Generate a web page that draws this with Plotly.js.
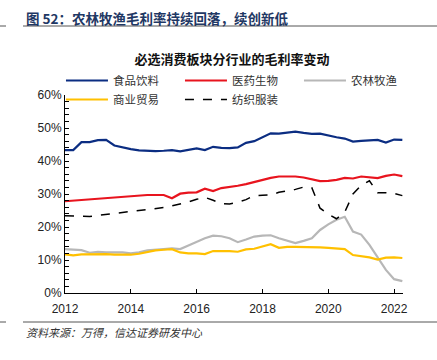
<!DOCTYPE html>
<html>
<head>
<meta charset="utf-8">
<script src="https://cdn.plot.ly/plotly-3.0.1.min.js"></script>
<style>html,body{margin:0;padding:0;background:#fff;}#chart{width:437px;height:360px;}</style>
</head>
<body>
<div id="chart"></div>
<script>
// Quarterly points, 2012Q1 .. 2022Q2 (decimal years)
const years = [2012.00,2012.25,2012.50,2012.75,2013.00,2013.25,2013.50,2013.75,2014.00,2014.25,2014.50,2014.75,
  2015.00,2015.25,2015.50,2015.75,2016.00,2016.25,2016.50,2016.75,2017.00,2017.25,2017.50,2017.75,
  2018.00,2018.25,2018.50,2018.75,2019.00,2019.25,2019.50,2019.75,2020.00,2020.25,2020.50,2020.75,
  2021.00,2021.25,2021.50,2021.75,2022.00,2022.25];
const seriesNames = ["食品饮料","医药生物","农林牧渔","商业贸易","纺织服装"];
const food = [43.3,43.3,45.7,45.7,46.3,46.4,44.7,44.1,43.6,43.2,43.0,43.0,
  43.1,43.3,42.9,43.3,43.8,43.3,44.3,44.0,43.9,44.1,45.5,46.0,
  47.2,48.4,48.3,48.6,48.9,48.5,48.2,48.3,47.7,47.2,46.8,45.9,
  46.1,46.3,46.4,45.6,46.5,46.4];
const pharma = [27.8,28.0,28.2,28.5,28.7,28.9,29.1,29.3,29.4,29.5,29.7,29.7,
  29.7,28.7,30.1,30.4,30.5,31.6,30.9,31.8,32.1,32.5,33.0,33.6,
  34.4,34.9,35.3,35.4,35.3,35.0,34.5,33.9,34.0,34.3,34.9,34.7,
  35.3,35.1,34.8,35.5,35.9,35.4];
const agri = [13.3,13.2,13.0,12.2,12.5,12.3,12.3,12.3,12.0,12.3,12.9,13.2,
  13.3,13.5,13.3,14.4,15.6,16.6,17.4,17.2,16.6,15.4,16.2,17.1,
  17.4,17.5,16.6,15.8,15.1,15.8,16.6,19.1,20.8,22.2,23.1,18.6,
  17.7,14.6,10.6,7.0,4.2,3.6];
const trade = [11.7,11.4,11.7,11.8,11.8,11.8,11.6,11.5,11.6,11.9,12.4,12.9,
  13.1,13.3,12.3,12.0,12.0,11.8,12.7,12.8,12.7,12.5,13.2,13.4,
  14.2,14.8,13.7,14.0,14.0,14.0,13.9,13.8,13.7,13.5,13.3,11.5,
  11.2,10.8,10.1,10.7,10.8,10.6];
const textile = [23.4,23.4,23.4,23.2,23.5,23.8,24.1,24.4,24.6,24.8,25.1,25.5,
  25.9,26.4,26.9,27.6,28.4,29.0,28.1,27.1,27.0,27.5,28.3,29.5,
  29.6,29.7,30.5,30.9,31.4,32.1,31.9,25.7,23.9,22.5,24.5,30.0,
  32.6,34.0,30.4,30.4,30.2,29.5];
const xTicks = [2012,2014,2016,2018,2020,2022];
const yTicks = [0,10,20,30,40,50,60];
const yTickText = yTicks.map(v => v + "%");

const allSeries = [food, pharma, agri, trade, textile];
const colors = ["#0B2D82","#E8141E","#B7B7B7","#FFC000","#000000"];
const dashes = ["solid","solid","solid","solid","dash"];
const widths = [2.2,2.2,2.2,2.2,1.5];

const traces = allSeries.map((s,i) => ({
  x: years, y: s, name: seriesNames[i], type: "scatter", mode: "lines",
  line: {color: colors[i], width: widths[i], dash: dashes[i]},
  hoverinfo: "skip"
}));

const W = 338, H = 198; // plot area px
const px = v => (v - 65) / W;
const py = v => (293 - v) / H;

const layout = {
  width: 437, height: 360,
  margin: {l: 65, r: 34, t: 95, b: 67},
  paper_bgcolor: "#fff", plot_bgcolor: "#fff",
  font: {family: "Liberation Sans, Arial, sans-serif", size: 12, color: "#222"},
  title: {text: "必选消费板块分行业的毛利率变动", font: {family: "Noto Sans CJK SC", size: 13, color: "#111", weight: 700},
    x: px(232), xref: "paper", xanchor: "center", y: 1 - 59/360, yref: "container", yanchor: "middle"},
  showlegend: true,
  legend: {orientation: "h", x: -0.0001, xanchor: "left", y: py(66), yanchor: "top",
    indentation: -4,
    entrywidth: 66, entrywidthmode: "pixels", itemwidth: 42, traceorder: "normal",
    font: {family: "Noto Sans CJK SC", size: 11.5, color: "#333"}, bgcolor: "rgba(0,0,0,0)",
    tracegroupgap: 0},
  xaxis: {range: [2012, 2022.27], tickvals: xTicks, ticktext: xTicks.map(String),
    ticks: "inside", ticklen: 4, tickcolor: "#000", showline: true, linecolor: "#000", linewidth: 1,
    ticklabelstandoff: 5,
    showgrid: false, zeroline: false, tickfont: {size: 12, color: "#222"}, fixedrange: true},
  yaxis: {range: [0, 60], tickvals: yTicks, ticktext: yTickText,
    ticks: "inside", ticklen: 4, tickcolor: "#000", showline: true, linecolor: "#000", linewidth: 1,
    minor: {dtick: 2, ticks: "inside", ticklen: 4, tickcolor: "#000", showgrid: false},
    showgrid: false, zeroline: false, tickfont: {size: 12, color: "#222"}, fixedrange: true},
  shapes: [
    {type: "line", xref: "paper", yref: "paper", x0: px(0), x1: px(6), y0: py(26), y1: py(26), line: {color: "#555", width: 1}},
    {type: "line", xref: "paper", yref: "paper", x0: px(23), x1: px(437), y0: py(26), y1: py(26), line: {color: "#555", width: 1}},
    {type: "line", xref: "paper", yref: "paper", x0: px(0), x1: px(6), y0: py(322), y1: py(322), line: {color: "#555", width: 1}},
    {type: "line", xref: "paper", yref: "paper", x0: px(23), x1: px(437), y0: py(322), y1: py(322), line: {color: "#555", width: 1}}
  ],
  annotations: [
    {text: "<b>图 52：农林牧渔毛利率持续回落，续创新低</b>", xref: "paper", yref: "paper", x: px(24), y: py(18),
     xanchor: "left", yanchor: "middle", showarrow: false,
     font: {family: "Noto Sans CJK SC", size: 13.5, color: "#1F3864"}},
    {text: "<i>资料来源：万得，信达证券研发中心</i>", xref: "paper", yref: "paper", x: px(24), y: py(332),
     xanchor: "left", yanchor: "middle", showarrow: false,
     font: {family: "Noto Sans CJK SC", size: 11, color: "#333"}}
  ]
};

Plotly.newPlot("chart", traces, layout, {displayModeBar: false, staticPlot: true});
</script>
</body>
</html>
